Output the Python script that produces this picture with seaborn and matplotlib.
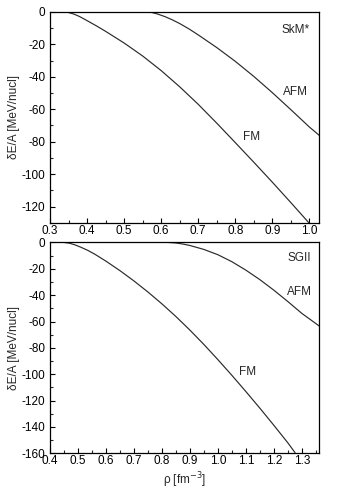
import matplotlib
matplotlib.use("Agg")
import matplotlib.pyplot as plt
from matplotlib.ticker import MultipleLocator
import numpy as np
import pandas as pd
import seaborn as sns

# ---- data ----
skm_fm_rho = [0.336, 0.35, 0.365, 0.38, 0.40, 0.425, 0.45, 0.475, 0.50, 0.55, 0.60, 0.65, 0.70, 0.75, 0.80, 0.85, 0.90, 0.95, 1.00]
skm_fm_e   = [0.0, -0.4, -1.4, -2.9, -5.4, -8.6, -12.0, -15.6, -19.2, -27.2, -36.2, -46.2, -57.0, -68.6, -80.6, -92.7, -105.0, -117.6, -130.4]
skm_afm_rho = [0.561, 0.575, 0.59, 0.61, 0.63, 0.65, 0.675, 0.70, 0.75, 0.80, 0.85, 0.90, 0.95, 1.00, 1.027]
skm_afm_e   = [0.0, -0.4, -1.3, -2.9, -4.9, -7.2, -10.5, -14.2, -22.0, -30.5, -39.8, -49.8, -60.3, -71.0, -76.2]

sg_fm_rho = [0.45, 0.47, 0.49, 0.51, 0.535, 0.56, 0.60, 0.65, 0.70, 0.75, 0.80, 0.85, 0.90, 0.95, 1.00, 1.05, 1.10, 1.15, 1.20, 1.25, 1.276]
sg_fm_e   = [0.0, -0.6, -1.9, -3.6, -6.0, -8.9, -14.2, -21.4, -29.2, -37.6, -46.6, -56.2, -66.5, -77.4, -88.9, -100.8, -113.1, -125.7, -138.7, -152.0, -159.5]
sg_afm_rho = [0.823, 0.85, 0.875, 0.90, 0.95, 1.00, 1.05, 1.10, 1.15, 1.20, 1.25, 1.30, 1.363]
sg_afm_e   = [0.0, -0.4, -1.2, -2.3, -5.3, -9.3, -14.6, -21.0, -28.2, -36.2, -44.8, -53.8, -63.5]

panel_names = ["SkM*", "SGII"]
x_ticks_top = [0.3, 0.4, 0.5, 0.6, 0.7, 0.8, 0.9, 1.0]
x_ticks_bot = [0.4, 0.5, 0.6, 0.7, 0.8, 0.9, 1.0, 1.1, 1.2, 1.3]
y_ticks_top = [0, -20, -40, -60, -80, -100, -120]
y_ticks_bot = [0, -20, -40, -60, -80, -100, -120, -140, -160]

sns.set_theme(style="ticks")
plt.rcParams['font.family'] = ['Liberation Sans', 'DejaVu Sans']
plt.rcParams['font.size'] = 8.5
FS = 8.5

fig = plt.figure(figsize=(3.38, 4.95), dpi=100)
ax1 = fig.add_axes([0.148, 0.550, 0.797, 0.426])
ax2 = fig.add_axes([0.148, 0.0842, 0.797, 0.426])

def df(r, e, lab):
    return pd.DataFrame({"rho": r, "E": e, "phase": lab})

top = pd.concat([df(skm_fm_rho, skm_fm_e, "FM"), df(skm_afm_rho, skm_afm_e, "AFM")])
bot = pd.concat([df(sg_fm_rho, sg_fm_e, "FM"), df(sg_afm_rho, sg_afm_e, "AFM")])

for ax, d in [(ax1, top), (ax2, bot)]:
    sns.lineplot(data=d, x="rho", y="E", units="phase", estimator=None, sort=True,
                 color="#2a2a2a", lw=0.85, ax=ax, legend=False)

def style(ax, xt, yt, xlim, ylim):
    ax.set_xlim(*xlim)
    ax.set_ylim(*ylim)
    ax.set_xticks(xt)
    ax.set_xticklabels([f"{v:.1f}" for v in xt])
    ax.set_yticks(yt)
    ax.set_yticklabels([f"{v:d}" for v in yt])
    ax.xaxis.set_minor_locator(MultipleLocator(0.05))
    ax.yaxis.set_minor_locator(MultipleLocator(10))
    ax.tick_params(which="major", direction="in", length=3.5, width=0.8, labelsize=FS, colors="black")
    ax.tick_params(axis="x", which="major", pad=1.5)
    ax.tick_params(axis="y", which="major", pad=3.5)
    ax.tick_params(which="minor", direction="in", length=2, width=0.8)
    for s in ax.spines.values():
        s.set_linewidth(0.9)
        s.set_color("black")
        s.set_visible(True)
    ax.set_ylabel("δE/A [MeV/nucl]", fontsize=FS, labelpad=1)
    ax.set_xlabel("")

style(ax1, x_ticks_top, y_ticks_top, (0.3, 1.027), (-130, 0))
style(ax2, x_ticks_bot, y_ticks_bot, (0.4, 1.363), (-160, 0))
ax2.set_xlabel("ρ [fm$^{-3}$]", fontsize=FS, labelpad=2)

ax1.text(1.0, -11.3, panel_names[0], ha="right", va="center", fontsize=FS)
ax1.text(0.963, -49.4, "AFM", ha="center", va="center", fontsize=FS)
ax1.text(0.845, -77.4, "FM", ha="center", va="center", fontsize=FS)

ax2.text(1.334, -11.9, panel_names[1], ha="right", va="center", fontsize=FS)
ax2.text(1.292, -37.7, "AFM", ha="center", va="center", fontsize=FS)
ax2.text(1.106, -98, "FM", ha="center", va="center", fontsize=FS)

fig.savefig("out.png", dpi=100)
